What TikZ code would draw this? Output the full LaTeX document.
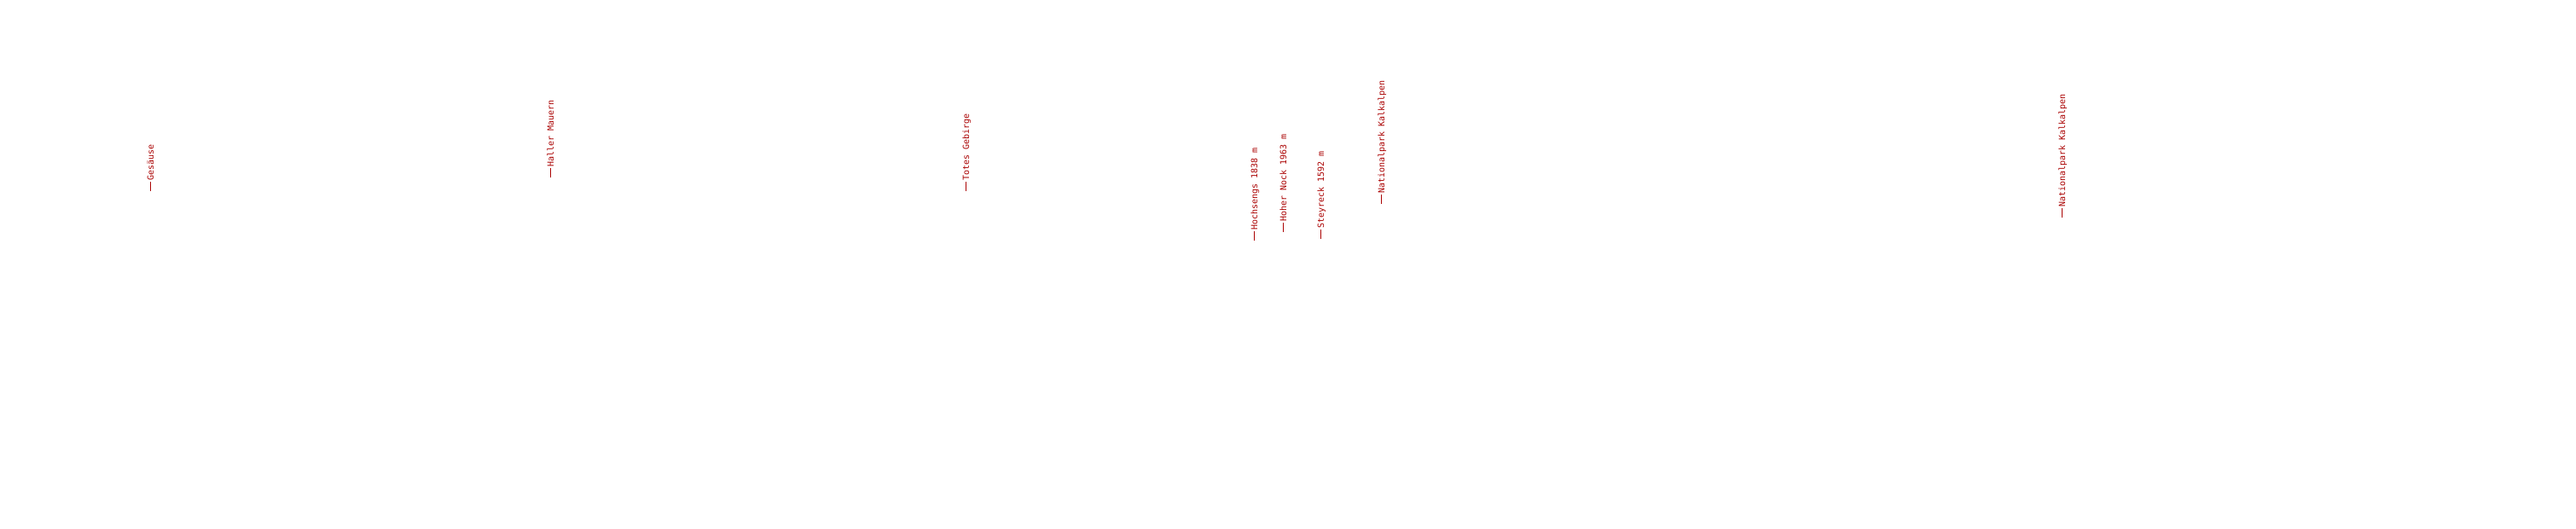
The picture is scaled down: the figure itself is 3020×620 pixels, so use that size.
\documentclass[tikz,border=0pt]{standalone}
\usepackage{fontspec}
\newfontfamily\labelfont{DejaVu Sans Mono}
\definecolor{labelred}{RGB}{170,0,0}
\newcommand{\lbldash}{\rule[3.3pt]{10.5pt}{0.9pt}\hspace{1.5pt}}
\tikzset{peak/.style={rotate=90, anchor=base west, inner sep=0pt, text=labelred, font=\labelfont\fontsize{10}{12}\selectfont}}
\begin{document}
\begin{tikzpicture}[x=1pt,y=-1pt]
\useasboundingbox[fill=white] (0,0) rectangle (3020,620);
\node[peak] (gesaeuse) at (180,224) {\lbldash Gesäuse};
\node[peak] (haller) at (649,208) {\lbldash Haller Mauern};
\node[peak] (totes) at (1136,224) {\lbldash Totes Gebirge};
\node[peak] (hochsengs) at (1474,282) {\lbldash Hochsengs 1838 m};
\node[peak] (hohernock) at (1508,272) {\lbldash Hoher Nock 1963 m};
\node[peak] (steyreck) at (1552,280) {\lbldash Steyreck 1592 m};
\node[peak] (kalkalpenA) at (1623,239) {\lbldash Nationalpark Kalkalpen};
\node[peak] (kalkalpenB) at (2421,255) {\lbldash Nationalpark Kalkalpen};
\end{tikzpicture}
\end{document}
